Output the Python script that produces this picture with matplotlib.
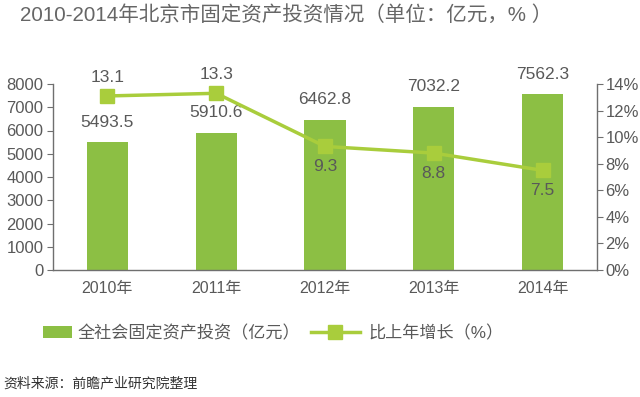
import matplotlib
matplotlib.use("Agg")
import matplotlib.pyplot as plt
from matplotlib.patches import Patch
from matplotlib.lines import Line2D

plt.rcParams['font.family'] = ['Liberation Sans', 'Noto Sans CJK SC', 'DejaVu Sans']

years = ["2010年", "2011年", "2012年", "2013年", "2014年"]
investment = [5493.5, 5910.6, 6462.8, 7032.2, 7562.3]
growth = [13.1, 13.3, 9.3, 8.8, 7.5]
growth_label_above = [True, True, False, False, False]

bar_color = "#8cbf44"
line_color = "#a9cd3c"
text_color = "#595959"

W, H = 640, 397
fig = plt.figure(figsize=(W/100, H/100), dpi=100)
ax = fig.add_axes([53/W, (H-270)/H, 544/W, 186/H])
ax2 = ax.twinx()

x = list(range(len(years)))
ax.bar(x, investment, width=0.38, color=bar_color, zorder=2)
ax.set_xlim(-0.5, len(years)-0.5)
ax.set_ylim(0, 8000)
ax.set_yticks(range(0, 8001, 1000))
ax.set_xticks(x)
ax.set_xticklabels(years)
ax2.set_ylim(0, 14)
ax2.set_yticks(range(0, 15, 2))
ax2.set_yticklabels([f"{v}%" for v in range(0, 15, 2)])

for a in (ax, ax2):
    a.spines['top'].set_visible(False)
    for s in a.spines.values():
        s.set_color("#6f6f6f")
        s.set_linewidth(1.0)
    a.tick_params(colors="#6f6f6f", labelcolor=text_color, labelsize=12, length=4)
ax.spines['right'].set_visible(False)
ax2.spines['left'].set_visible(False)
ax2.spines['bottom'].set_visible(False)
ax.tick_params(axis='x', length=0, pad=8, labelsize=11.5)
ax.tick_params(axis='y', pad=3)
ax2.tick_params(axis='y', pad=2)

ax2.plot(x, growth, color=line_color, lw=2.5, marker='s', markersize=9.5,
         markerfacecolor=line_color, markeredgecolor=line_color, zorder=3)

for xi, v in zip(x, investment):
    ax.annotate(f"{v:.1f}", (xi, v), xytext=(0, 9), textcoords='offset points',
                ha='center', va='bottom', fontsize=12.5, color=text_color)
for xi, v, above in zip(x, growth, growth_label_above):
    if above:
        ax2.annotate(f"{v:.1f}", (xi, v), xytext=(0, 8), textcoords='offset points',
                     ha='center', va='bottom', fontsize=12.5, color=text_color)
    else:
        ax2.annotate(f"{v:.1f}", (xi, v), xytext=(0, -9), textcoords='offset points',
                     ha='center', va='top', fontsize=12.5, color=text_color)

fig.text(20/W, 1-15/H, "2010-2014年北京市固定资产投资情况（单位：亿元，% ）",
         ha='left', va='center', fontsize=14.8, color="#666666")

leg1 = fig.legend([Patch(facecolor=bar_color, edgecolor='none')],
                  ["全社会固定资产投资（亿元）"], loc='center left',
                  bbox_to_anchor=(43/W, 1-333/H), frameon=False, fontsize=12.3,
                  labelcolor=text_color, handlelength=1.7, handletextpad=0.35,
                  borderpad=0, borderaxespad=0)
leg2 = fig.legend([Line2D([0], [0], color=line_color, lw=2.5, marker='s', markersize=10)],
                  ["比上年增长（%）"], loc='center left',
                  bbox_to_anchor=(311/W, 1-333/H), frameon=False, fontsize=12.3,
                  labelcolor=text_color, handlelength=2.85, handletextpad=0.5,
                  borderpad=0, borderaxespad=0)

fig.text(3/W, 1-383/H, "资料来源：前瞻产业研究院整理", ha='left', va='center',
         fontsize=10, color="#333333")

fig.savefig("out.png", dpi=100, facecolor='white')
